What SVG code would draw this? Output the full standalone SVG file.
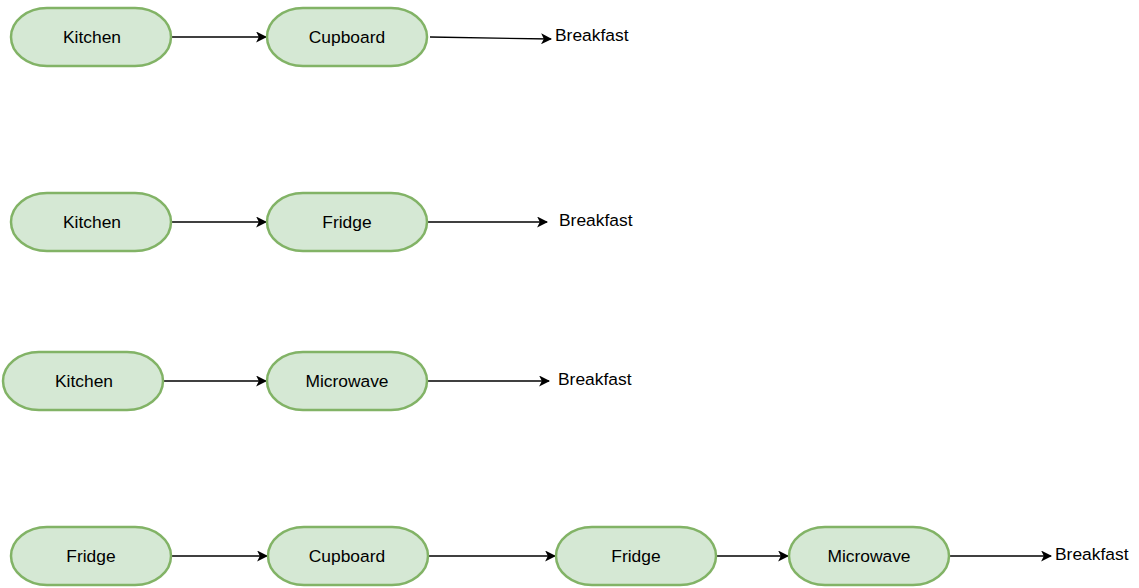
<svg xmlns="http://www.w3.org/2000/svg" width="1139" height="588" viewBox="0 0 1139 588">
  <style>
    .node rect { fill: #d5e8d4; stroke: #82b366; stroke-width: 2.5; }
    .node text, .label { font-family: "Liberation Sans", Arial, sans-serif; font-size: 17.4px; fill: #000; }
    .node text { text-anchor: middle; dominant-baseline: central; }
    .label { dominant-baseline: central; }
    .edge { stroke: #000; stroke-width: 1.3; fill: none; marker-end: url(#arrow); }
  </style>
  <defs>
    <marker id="arrow" viewBox="0 0 10 10" refX="9" refY="5" markerWidth="11" markerHeight="11" markerUnits="userSpaceOnUse" orient="auto">
      <path d="M0,0 L10,5 L0,10 L2.5,5 Z" fill="#000"/>
    </marker>
  </defs>
  <rect width="1139" height="588" fill="#fff"/>

  <!-- connectors -->
  <g id="edges">
    <path class="edge" d="M171,37 L266,37"/>
    <path class="edge" d="M430,37 L551,39"/>
    <path class="edge" d="M171,222 L266,222"/>
    <path class="edge" d="M427,222 L547,222"/>
    <path class="edge" d="M163,381 L266,381"/>
    <path class="edge" d="M427,381 L549,381"/>
    <path class="edge" d="M171,556 L267,556"/>
    <path class="edge" d="M428,556 L555,556"/>
    <path class="edge" d="M716,556 L788,556"/>
    <path class="edge" d="M949,556 L1051,556"/>
  </g>

  <!-- row 1 -->
  <g id="n-kitchen-1" class="node"><rect x="11" y="8" width="160" height="58" rx="36" ry="29"/><text x="92" y="37">Kitchen</text></g>
  <g id="n-cupboard-1" class="node"><rect x="267" y="8" width="160" height="58" rx="36" ry="29"/><text x="347" y="37">Cupboard</text></g>
  <g id="n-breakfast-1"><text class="label" x="555" y="35">Breakfast</text></g>

  <!-- row 2 -->
  <g id="n-kitchen-2" class="node"><rect x="11" y="193" width="160" height="58" rx="36" ry="29"/><text x="92" y="222">Kitchen</text></g>
  <g id="n-fridge-2" class="node"><rect x="267" y="193" width="160" height="58" rx="36" ry="29"/><text x="347" y="222">Fridge</text></g>
  <g id="n-breakfast-2"><text class="label" x="559" y="220">Breakfast</text></g>

  <!-- row 3 -->
  <g id="n-kitchen-3" class="node"><rect x="3" y="352" width="160" height="58" rx="36" ry="29"/><text x="84" y="381">Kitchen</text></g>
  <g id="n-microwave-3" class="node"><rect x="267" y="352" width="160" height="58" rx="36" ry="29"/><text x="347" y="381">Microwave</text></g>
  <g id="n-breakfast-3"><text class="label" x="558" y="379">Breakfast</text></g>

  <!-- row 4 -->
  <g id="n-fridge-4" class="node"><rect x="11" y="527" width="160" height="58" rx="36" ry="29"/><text x="91" y="556">Fridge</text></g>
  <g id="n-cupboard-4" class="node"><rect x="268" y="527" width="160" height="58" rx="36" ry="29"/><text x="347" y="556">Cupboard</text></g>
  <g id="n-fridge-4b" class="node"><rect x="556" y="527" width="160" height="58" rx="36" ry="29"/><text x="636" y="556">Fridge</text></g>
  <g id="n-microwave-4" class="node"><rect x="789" y="527" width="160" height="58" rx="36" ry="29"/><text x="869" y="556">Microwave</text></g>
  <g id="n-breakfast-4"><text class="label" x="1055" y="554">Breakfast</text></g>
</svg>
